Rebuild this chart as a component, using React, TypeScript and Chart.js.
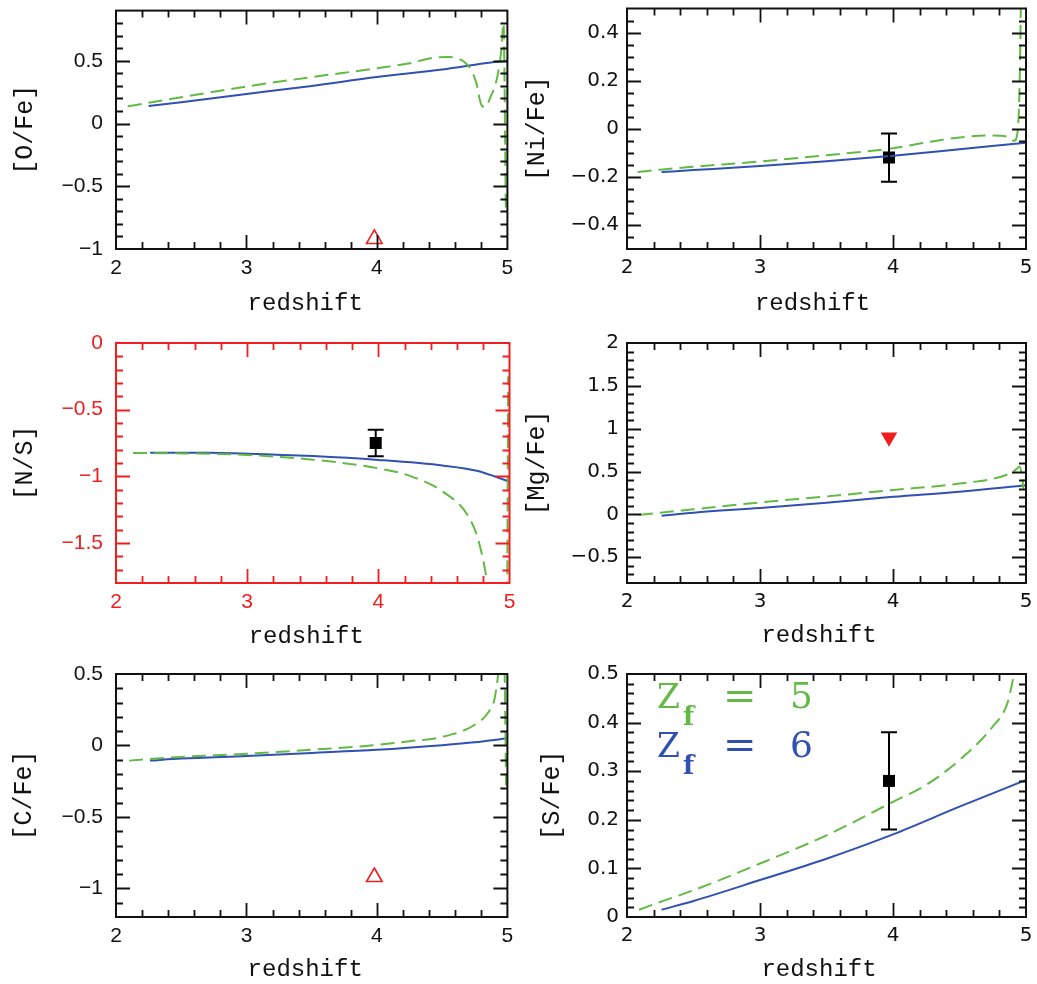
import { useEffect, useRef } from "react";
import { Chart, registerables } from "chart.js";

Chart.register(...registerables);

const GREEN = "#62ba45";
const BLUE = "#3050b2";
const RED = "#f01e1e";
const INK = "#111111";

const X_TICKS = [2, 3, 4, 5];
const X_TITLE = "redshift";

// ---- [O/Fe]
const ofeTicks = [-1, -0.5, 0, 0.5];
const ofeZ6 = [2.25, 2.5, 3, 3.5, 4, 4.5, 4.9, 5];
const ofeV6 = [0.14, 0.17, 0.235, 0.3, 0.37, 0.43, 0.49, 0.5];
const ofeZ5 = [2.09, 2.25, 2.5, 3, 3.5, 4, 4.25, 4.44, 4.55, 4.67, 4.72, 4.76, 4.8, 4.83, 4.87, 4.92, 4.955, 4.97, 4.988];
const ofeV5 = [0.137, 0.165, 0.21, 0.295, 0.37, 0.44, 0.48, 0.525, 0.53, 0.49, 0.43, 0.33, 0.15, 0.13, 0.21, 0.36, 0.6, 0.8, -0.67];
const ofeObsZ = [3.98];
const ofeObsV = [-0.92];

// ---- [Ni/Fe]
const niTicks = [-0.4, -0.2, 0, 0.2, 0.4];
const niZ6 = [2.26, 2.5, 3, 3.5, 4, 4.5, 5];
const niV6 = [-0.18, -0.172, -0.155, -0.135, -0.112, -0.085, -0.058];
const niZ5 = [2.08, 2.25, 2.5, 3, 3.5, 4, 4.25, 4.5, 4.75, 4.87, 4.91, 4.935, 4.948, 4.956, 4.963];
const niV5 = [-0.18, -0.17, -0.158, -0.136, -0.11, -0.081, -0.057, -0.036, -0.028, -0.035, -0.05, -0.02, 0.1, 0.3, 0.6];
const niObsZ = [3.97];
const niObsV = [-0.12];
const niObsErr = [0.1];

// ---- [N/S]
const nsTicks = [-1.5, -1, -0.5, 0];
const nsZ6 = [2.26, 2.7, 3, 3.5, 4, 4.5, 4.75, 5];
const nsV6 = [-0.824, -0.824, -0.83, -0.848, -0.877, -0.92, -0.958, -1.04];
const nsZ5 = [2.13, 2.5, 3, 3.5, 4, 4.25, 4.5, 4.68, 4.76, 4.83, 4.86, 4.975, 4.982, 4.99];
const nsV5 = [-0.825, -0.828, -0.84, -0.875, -0.94, -1.0, -1.12, -1.29, -1.47, -1.79, -2.0, -2.3, -1.9, -0.25];
const nsObsZ = [3.98];
const nsObsV = [-0.75];
const nsObsErr = [0.1];

// ---- [Mg/Fe]
const mgTicks = [-0.5, 0, 0.5, 1, 1.5, 2];
const mgZ6 = [2.26, 2.5, 3, 3.5, 4, 4.5, 5];
const mgV6 = [-0.015, 0.02, 0.075, 0.135, 0.205, 0.265, 0.34];
const mgZ5 = [2.09, 2.25, 2.5, 3, 3.5, 4, 4.5, 4.85, 4.93, 4.95, 4.97, 4.98];
const mgV5 = [-0.005, 0.02, 0.06, 0.14, 0.21, 0.285, 0.36, 0.46, 0.53, 0.56, 0.45, 0.3];
const mgObsZ = [3.97];
const mgObsV = [0.9];

// ---- [C/Fe]
const cTicks = [-1, -0.5, 0, 0.5];
const cZ6 = [2.26, 2.5, 3, 3.5, 4, 4.5, 4.75, 5];
const cV6 = [-0.106, -0.092, -0.073, -0.052, -0.03, 0.002, 0.022, 0.05];
const cZ5 = [2.1, 2.5, 3, 3.5, 4, 4.25, 4.5, 4.75, 4.86, 4.9, 4.93, 4.945, 4.975, 4.99];
const cV5 = [-0.106, -0.08, -0.058, -0.03, 0.004, 0.03, 0.06, 0.145, 0.24, 0.32, 0.5, 0.62, 0.62, -0.28];
const cObsZ = [3.98];
const cObsV = [-0.92];

// ---- [S/Fe]
const sTicks = [0, 0.1, 0.2, 0.3, 0.4, 0.5];
const sZ6 = [2.26, 2.5, 3, 3.5, 4, 4.5, 5];
const sV6 = [0.015, 0.033, 0.076, 0.12, 0.17, 0.227, 0.282];
const sZ5 = [2.09, 2.25, 2.5, 3, 3.5, 4, 4.25, 4.5, 4.75, 4.86, 4.91, 4.93];
const sV5 = [0.015, 0.031, 0.055, 0.11, 0.168, 0.237, 0.272, 0.323, 0.392, 0.44, 0.5, 0.53];
const sObsZ = [3.97];
const sObsV = [0.28];
const sObsErr = [0.1];

const LEGEND_LABELS = ["5", "6"];

type Kind = "square" | "openUp" | "filledDown";

interface PanelCfg {
  id: string;
  left: number;
  top: number;
  w: number;
  h: number;
  area: { l: number; r: number; t: number; b: number };
  yMin: number;
  yMax: number;
  yTicks: number[];
  yMinor: number;
  yTitle: string;
  yTitleX: number;
  xTitleBase: number;
  xTitleDx: number;
  axisColor: string;
  rightCol: boolean;
  z6: number[];
  v6: number[];
  z5: number[];
  v5: number[];
  obsZ: number[];
  obsV: number[];
  obsErr?: number[];
  kind: Kind;
  legend?: boolean;
}

const PANELS: PanelCfg[] = [
  {
    id: "ofe", left: 0, top: 0, w: 518, h: 320,
    area: { l: 116, r: 512, t: 8, b: 249 },
    yMin: -1, yMax: 0.9, yTicks: ofeTicks, yMinor: 0.1,
    yTitle: "[O/Fe]", yTitleX: 25, xTitleBase: 310, xTitleDx: -6.5,
    axisColor: INK, rightCol: false,
    z6: ofeZ6, v6: ofeV6, z5: ofeZ5, v5: ofeV5, obsZ: ofeObsZ, obsV: ofeObsV, kind: "openUp",
  },
  {
    id: "ni", left: 518, top: 0, w: 519, h: 320,
    area: { l: 109, r: 508, t: 8, b: 249 },
    yMin: -0.5, yMax: 0.5, yTicks: niTicks, yMinor: 0.05,
    yTitle: "[Ni/Fe]", yTitleX: 19.5, xTitleBase: 310, xTitleDx: -14,
    axisColor: INK, rightCol: true,
    z6: niZ6, v6: niV6, z5: niZ5, v5: niV5, obsZ: niObsZ, obsV: niObsV, obsErr: niObsErr, kind: "square",
  },
  {
    id: "ns", left: 0, top: 320, w: 518, h: 330,
    area: { l: 116, r: 512, t: 23, b: 263 },
    yMin: -1.8, yMax: 0, yTicks: nsTicks, yMinor: 0.1,
    yTitle: "[N/S]", yTitleX: 25.5, xTitleBase: 323, xTitleDx: -6.5,
    axisColor: RED, rightCol: false,
    z6: nsZ6, v6: nsV6, z5: nsZ5, v5: nsV5, obsZ: nsObsZ, obsV: nsObsV, obsErr: nsObsErr, kind: "square",
  },
  {
    id: "mg", left: 518, top: 320, w: 519, h: 330,
    area: { l: 109, r: 508, t: 23, b: 263 },
    yMin: -0.8, yMax: 2, yTicks: mgTicks, yMinor: 0.1,
    yTitle: "[Mg/Fe]", yTitleX: 19.5, xTitleBase: 322, xTitleDx: -7.5,
    axisColor: INK, rightCol: true,
    z6: mgZ6, v6: mgV6, z5: mgZ5, v5: mgV5, obsZ: mgObsZ, obsV: mgObsV, kind: "filledDown",
  },
  {
    id: "c", left: 0, top: 650, w: 518, h: 334,
    area: { l: 116, r: 512, t: 24, b: 267 },
    yMin: -1.2, yMax: 0.5, yTicks: cTicks, yMinor: 0.1,
    yTitle: "[C/Fe]", yTitleX: 24.7, xTitleBase: 326, xTitleDx: -6.5,
    axisColor: INK, rightCol: false,
    z6: cZ6, v6: cV6, z5: cZ5, v5: cV5, obsZ: cObsZ, obsV: cObsV, kind: "openUp",
  },
  {
    id: "s", left: 518, top: 650, w: 519, h: 334,
    area: { l: 109, r: 508, t: 24, b: 267 },
    yMin: 0, yMax: 0.5, yTicks: sTicks, yMinor: 0.02,
    yTitle: "[S/Fe]", yTitleX: 34.5, xTitleBase: 326, xTitleDx: -7.5,
    axisColor: INK, rightCol: true,
    z6: sZ6, v6: sV6, z5: sZ5, v5: sV5, obsZ: sObsZ, obsV: sObsV, obsErr: sObsErr, kind: "square",
    legend: true,
  },
];

const zip = (xs: number[], ys: number[]) => xs.map((x, i) => ({ x, y: ys[i] }));

const fmt = (v: number | string) => {
  const n = Number(v);
  if (Math.abs(n) < 1e-9) return "0";
  const s = String(Math.round(Math.abs(n) * 100) / 100);
  return n < 0 ? "\u2212" + s : s;
};

function makePlugin(cfg: PanelCfg) {
  return {
    id: "frame_" + cfg.id,
    afterDatasetsDraw(chart: any) {
      if (!cfg.obsErr) return;
      const { ctx } = chart;
      const xs = chart.scales.x;
      const ys = chart.scales.y;
      ctx.save();
      ctx.strokeStyle = "#000";
      ctx.lineWidth = 2;
      cfg.obsZ.forEach((z, i) => {
        const e = cfg.obsErr![i];
        const px = xs.getPixelForValue(z);
        const y1 = ys.getPixelForValue(cfg.obsV[i] + e);
        const y2 = ys.getPixelForValue(cfg.obsV[i] - e);
        ctx.beginPath();
        ctx.moveTo(px, y1);
        ctx.lineTo(px, y2);
        ctx.moveTo(px - 8, y1);
        ctx.lineTo(px + 8, y1);
        ctx.moveTo(px - 8, y2);
        ctx.lineTo(px + 8, y2);
        ctx.stroke();
      });
      ctx.restore();
    },
    afterDraw(chart: any) {
      const { ctx, chartArea: a } = chart;
      const xs = chart.scales.x;
      const ys = chart.scales.y;
      ctx.save();
      ctx.strokeStyle = cfg.axisColor;
      ctx.lineWidth = 1.8;
      // x ticks (bottom and top, inward)
      const xMinor = 0.2;
      const nx = Math.round(3 / xMinor);
      for (let i = 1; i < nx; i++) {
        const v = 2 + i * xMinor;
        const major = X_TICKS.some((t) => Math.abs(t - v) < 1e-6);
        const len = major ? 14 : 7;
        const px = Math.round(xs.getPixelForValue(v)) + 0.5;
        ctx.beginPath();
        ctx.moveTo(px, a.bottom);
        ctx.lineTo(px, a.bottom - len);
        ctx.moveTo(px, a.top);
        ctx.lineTo(px, a.top + len);
        ctx.stroke();
      }
      // y ticks (left and right, inward)
      const ny = Math.round((cfg.yMax - cfg.yMin) / cfg.yMinor);
      for (let i = 1; i < ny; i++) {
        const v = cfg.yMin + i * cfg.yMinor;
        const major = cfg.yTicks.some((t) => Math.abs(t - v) < 1e-6);
        const len = major ? 14 : 7;
        const py = Math.round(ys.getPixelForValue(v)) + 0.5;
        ctx.beginPath();
        ctx.moveTo(a.left, py);
        ctx.lineTo(a.left + len, py);
        ctx.moveTo(a.right, py);
        ctx.lineTo(a.right - len, py);
        ctx.stroke();
      }
      // frame
      ctx.lineWidth = 2;
      ctx.strokeRect(a.left, a.top, a.right - a.left, a.bottom - a.top);

      // axis titles
      ctx.fillStyle = INK;
      ctx.font = '24px "Liberation Mono"';
      ctx.textAlign = "center";
      ctx.textBaseline = "alphabetic";
      ctx.fillText(X_TITLE, (a.left + a.right) / 2 + cfg.xTitleDx, cfg.xTitleBase);
      ctx.save();
      ctx.translate(cfg.yTitleX, (a.top + a.bottom) / 2);
      ctx.rotate(-Math.PI / 2);
      ctx.font = '25px "Liberation Mono"';
      ctx.textBaseline = "middle";
      ctx.fillText(cfg.yTitle, 0, 0);
      ctx.restore();

      // legend
      if (cfg.legend) {
        const colors = [GREEN, BLUE];
        LEGEND_LABELS.forEach((lab, i) => {
          const x0 = a.left + 30;
          const base = a.top + 34 + i * 49;
          ctx.fillStyle = colors[i];
          ctx.textAlign = "left";
          ctx.textBaseline = "alphabetic";
          ctx.font = '33px "DejaVu Serif"';
          ctx.fillText("Z", x0, base);
          ctx.font = 'bold 26px "DejaVu Serif"';
          ctx.fillText("f", x0 + 26, base + 17);
          ctx.font = '40px "DejaVu Serif"';
          ctx.fillText("=", x0 + 66, base + 1);
          ctx.font = '36px "DejaVu Serif"';
          ctx.fillText(lab, x0 + 133, base);
        });
      }
      ctx.restore();
    },
  };
}

function Panel({ cfg }: { cfg: PanelCfg }) {
  const ref = useRef<HTMLCanvasElement>(null);
  useEffect(() => {
    if (!ref.current) return;
    const tickFont = cfg.rightCol
      ? { family: "DejaVu Sans", size: 20 }
      : { family: "Liberation Sans", size: 21 };
    const obsStyle: any =
      cfg.kind === "square"
        ? { pointStyle: "rect", pointRadius: 8.5, backgroundColor: "#000", borderColor: "#000", borderWidth: 0 }
        : cfg.kind === "openUp"
        ? { pointStyle: "triangle", pointRadius: 9, backgroundColor: "rgba(0,0,0,0)", borderColor: RED, borderWidth: 1.6 }
        : { pointStyle: "triangle", pointRadius: 9.5, rotation: 180, backgroundColor: RED, borderColor: RED, borderWidth: 0 };

    const chart = new Chart(ref.current, {
      type: "line",
      data: {
        datasets: [
          {
            label: "Zf = 5",
            data: zip(cfg.z5, cfg.v5),
            borderColor: GREEN,
            borderWidth: 2,
            borderDash: [14, 7],
            pointRadius: 0,
            cubicInterpolationMode: "monotone",
            fill: false,
          },
          {
            label: "Zf = 6",
            data: zip(cfg.z6, cfg.v6),
            borderColor: BLUE,
            borderWidth: 2,
            pointRadius: 0,
            cubicInterpolationMode: "monotone",
            fill: false,
          },
          {
            label: "obs",
            data: zip(cfg.obsZ, cfg.obsV),
            showLine: false,
            ...obsStyle,
            pointHoverRadius: obsStyle.pointRadius,
          },
        ] as any,
      },
      options: {
        animation: false,
        responsive: false,
        devicePixelRatio: 1,
        layout: { padding: { top: cfg.area.t, right: cfg.w - cfg.area.r, left: 0, bottom: 0 } },
        plugins: { legend: { display: false }, tooltip: { enabled: false } },
        events: [],
        scales: {
          x: {
            type: "linear",
            min: 2,
            max: 5,
            afterBuildTicks: (s: any) => {
              s.ticks = X_TICKS.map((v) => ({ value: v }));
            },
            afterFit: (s: any) => {
              s.height = cfg.h - cfg.area.b;
              s.paddingLeft = 0;
              s.paddingRight = 0;
            },
            grid: { display: false, drawTicks: false },
            border: { display: false },
            ticks: {
              padding: 7,
              color: cfg.axisColor,
              font: tickFont,
              autoSkip: false,
              maxRotation: 0,
              callback: (v: any) => fmt(v),
            },
          },
          y: {
            type: "linear",
            min: cfg.yMin,
            max: cfg.yMax,
            afterBuildTicks: (s: any) => {
              s.ticks = cfg.yTicks.map((v) => ({ value: v }));
            },
            afterFit: (s: any) => {
              s.width = cfg.area.l;
              s.paddingTop = 0;
              s.paddingBottom = 0;
            },
            grid: { display: false, drawTicks: false },
            border: { display: false },
            ticks: {
              padding: cfg.rightCol ? 8 : 13,
              color: cfg.axisColor,
              font: tickFont,
              autoSkip: false,
              callback: (v: any) => fmt(v),
            },
          },
        },
      } as any,
      plugins: [makePlugin(cfg)],
    });
    return () => chart.destroy();
  }, [cfg]);
  return (
    <canvas
      ref={ref}
      width={cfg.w}
      height={cfg.h}
      style={{ position: "absolute", left: cfg.left, top: cfg.top, width: cfg.w, height: cfg.h }}
    />
  );
}

export default function App() {
  return (
    <div
      style={{
        position: "fixed",
        left: 0,
        top: 0,
        width: 1037,
        height: 984,
        overflow: "hidden",
        background: "#ffffff",
      }}
    >
      {PANELS.map((p) => (
        <Panel key={p.id} cfg={p} />
      ))}
    </div>
  );
}
